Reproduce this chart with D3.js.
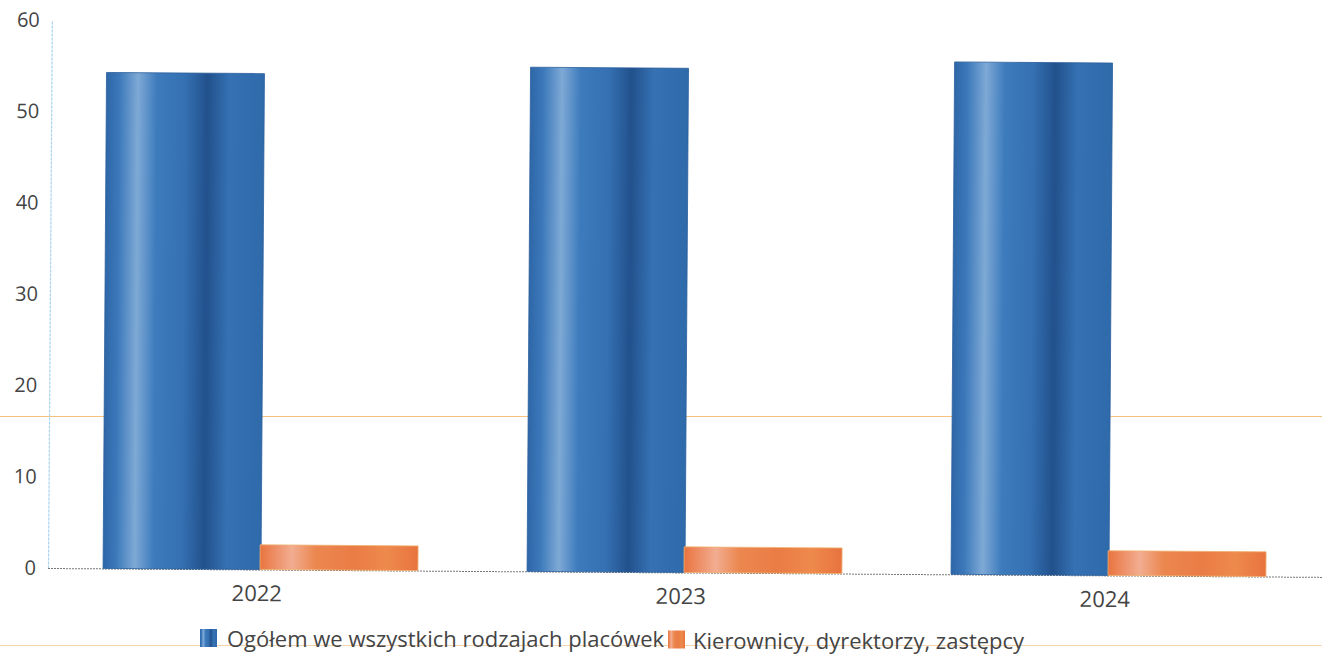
<!DOCTYPE html>
<html><head><meta charset="utf-8">
<script src="https://cdn.jsdelivr.net/npm/d3@7"></script>
<style>body{margin:0;background:#fff}svg{display:block;font-family:"Open Sans",sans-serif}</style>
</head><body>
<svg id="c" width="1322" height="661"></svg>
<script>
const categories = ["2022", "2023", "2024"];
const seriesNames = ["Ogółem we wszystkich rodzajach placówek", "Kierownicy, dyrektorzy, zastępcy"];
const totalValues = [54.3, 55.2, 56.1];
const managerValues = [2.7, 2.8, 2.7];
const yTicks = [0, 10, 20, 30, 40, 50, 60];

const svg = d3.select("#c");
const defs = svg.append("defs");
function grad(id, stops){
  const g = defs.append("linearGradient").attr("id", id).attr("x1","0").attr("x2","1").attr("y1","0").attr("y2","0");
  stops.forEach(([o,c]) => g.append("stop").attr("offset", o).attr("stop-color", c));
}
grad("gBlue", [[0,"#2e67a8"],[0.08,"#3b78ba"],[0.2,"#7ea9d5"],[0.32,"#3d7bbd"],[0.5,"#3470b2"],[0.64,"#22518c"],[0.78,"#3571b3"],[1,"#2f6aab"]]);
grad("gOrange", [[0,"#e9743e"],[0.1,"#ee9068"],[0.2,"#f2ad90"],[0.35,"#ec8750"],[0.6,"#ea7c45"],[0.8,"#ee8a4c"],[1,"#e8733f"]]);

// scan artefact rules
svg.append("line").attr("x1",0).attr("x2",1322).attr("y1",416.5).attr("y2",416.5).attr("stroke","#f3c27e").attr("stroke-width",1.2);
svg.append("line").attr("x1",0).attr("x2",1322).attr("y1",645.5).attr("y2",645.5).attr("stroke","#f5d3ad").attr("stroke-width",1);

const g = svg.append("g").attr("transform","rotate(0.4,48,568)");
const y = d3.scaleLinear().domain([0,60]).range([568,20]);
const x0 = d3.scaleBand().domain(categories).range([49,1321]).paddingInner(0.255).paddingOuter(0.1275);
const x1 = d3.scaleBand().domain([0,1]).range([0,x0.bandwidth()]).padding(0);

// y axis
const yAxis = d3.axisLeft(y).tickValues(yTicks).tickSize(0).tickPadding(12);
const ya = g.append("g").attr("transform","translate(48,0)").call(yAxis);
ya.select(".domain").attr("stroke","#a9d2ee").attr("stroke-width",1.2).attr("stroke-dasharray","3,1");
ya.selectAll("text").attr("font-size",20).attr("fill","#444").attr("font-family","Open Sans");

// baseline
g.append("line").attr("x1",48).attr("x2",1322).attr("y1",y(0)+0.5).attr("y2",y(0)+0.5)
 .attr("stroke","#777").attr("stroke-width",1).attr("stroke-dasharray","2,1");

const data = categories.map((c,i)=>({c, v:[totalValues[i], managerValues[i]]}));
const grp = g.selectAll(".grp").data(data).join("g").attr("transform", d=>`translate(${x0(d.c)},0)`);
grp.selectAll("rect").data(d=>d.v).join("rect")
  .attr("x",(d,i)=>x1(i)+(i===1?-1:0))
  .attr("width",x1.bandwidth())
  .attr("y",d=>y(d)).attr("height",d=>y(0)-y(d))
  .attr("fill",(d,i)=>i===0?"url(#gBlue)":"url(#gOrange)")
  .attr("stroke",(d,i)=>i===0?"#2a5f9c":"#f0b070").attr("stroke-width",0.8);

// x axis labels
const xAxis = d3.axisBottom(x0).tickSize(0).tickPadding(16);
const xa = g.append("g").attr("transform",`translate(-4,${y(0)})`).call(xAxis);
xa.select(".domain").remove();
xa.selectAll("text").attr("font-size",22).attr("fill","#444").attr("font-family","Open Sans");

// legend
const legend = svg.append("g").attr("transform","translate(200,629)");
const colors = ["url(#gBlue)","url(#gOrange)"];
const lx = [0, 468];
seriesNames.forEach((n,i)=>{
  const lg = legend.append("g").attr("transform",`translate(${lx[i]},${i*1.5})`);
  lg.append("rect").attr("width",17).attr("height",18).attr("fill",colors[i]);
  lg.append("text").attr("x",i===0?27:25).attr("y",18).attr("font-size",22).attr("fill","#444").text(n);
});
</script>
</body></html>
